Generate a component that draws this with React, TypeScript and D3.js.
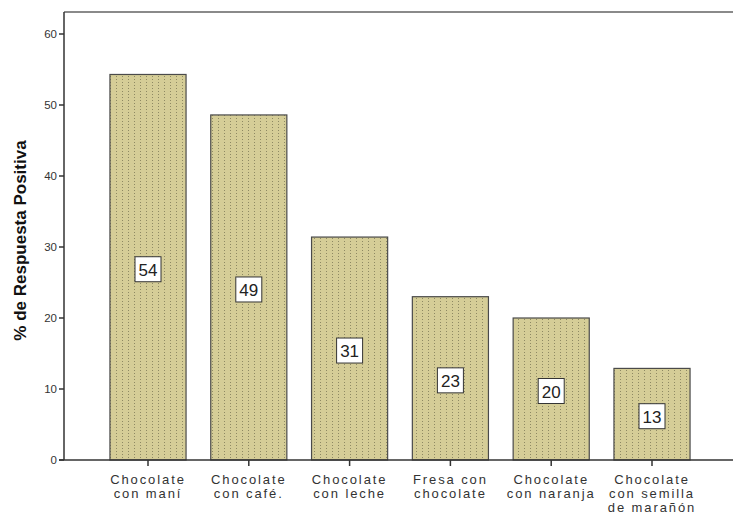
import React from "react";
import * as d3 from "d3";

const categories: string[][] = [
  ["Chocolate", "con maní"],
  ["Chocolate", "con café."],
  ["Chocolate", "con leche"],
  ["Fresa con", "chocolate"],
  ["Chocolate", "con naranja"],
  ["Chocolate", "con semilla", "de marañón"],
];
const values: number[] = [54.3, 48.6, 31.4, 23.0, 20.0, 12.9];
const valueLabels: string[] = ["54", "49", "31", "23", "20", "13"];
const yTicks: number[] = [0, 10, 20, 30, 40, 50, 60];
const yTitle = "% de Respuesta Positiva";

const W = 733;
const H = 514;
const axisX = 64;
const axisY = 460;
const topY = 12;

export default function App() {
  const keys = categories.map((c) => c.join(" "));
  const x = d3
    .scaleBand<string>()
    .domain(keys)
    .range([97.6, 702.4])
    .paddingInner(0.245)
    .paddingOuter(0.1225);
  const y = d3.scaleLinear().domain([0, 60]).range([axisY, 34]);
  const font = "'Liberation Sans', Arial, sans-serif";

  return (
    <svg
      width={W}
      height={H}
      style={{ position: "absolute", left: 0, top: 0, background: "#fff" }}
      fontFamily={font}
    >
      <defs>
        <pattern id="dots" width={6} height={3} patternUnits="userSpaceOnUse">
          <rect width={6} height={3} fill="#d5cd97" />
          <rect x={2} y={1} width={1} height={1} fill="#8e8963" />
        </pattern>
      </defs>
      <line x1={axisX} x2={W} y1={topY} y2={topY} stroke="#8a8a8a" strokeWidth={2} />
      {values.map((v, i) => {
        const bx = x(keys[i])!;
        const bw = x.bandwidth();
        const top = y(v);
        const mid = (top + axisY) / 2 + 2;
        return (
          <g key={keys[i]}>
            <rect
              x={bx}
              y={top}
              width={bw}
              height={axisY - top}
              fill="url(#dots)"
              stroke="#4a4a4a"
              strokeWidth={1.2}
            />
            <rect
              x={bx + bw / 2 - 13}
              y={mid - 12.5}
              width={26}
              height={25}
              fill="#fff"
              stroke="#333"
              strokeWidth={1}
            />
            <text
              x={bx + bw / 2}
              y={mid + 6.5}
              textAnchor="middle"
              fontSize={17}
              fill="#222"
            >
              {valueLabels[i]}
            </text>
          </g>
        );
      })}
      <line x1={axisX} x2={axisX} y1={topY} y2={axisY} stroke="#333" strokeWidth={1.5} />
      <line x1={axisX - 5} x2={W} y1={axisY} y2={axisY} stroke="#333" strokeWidth={1.5} />
      {yTicks.map((t) => (
        <g key={t}>
          <line x1={axisX - 5} x2={axisX} y1={y(t)} y2={y(t)} stroke="#333" strokeWidth={1.5} />
          <text x={axisX - 7} y={y(t) + 4} textAnchor="end" fontSize={11.5} fill="#333">
            {t}
          </text>
        </g>
      ))}
      {categories.map((lines, i) => {
        const cx = x(keys[i])! + x.bandwidth() / 2;
        return (
          <g key={keys[i]}>
            <line x1={cx} x2={cx} y1={axisY} y2={axisY + 6} stroke="#333" strokeWidth={1.5} />
            {lines.map((l, j) => (
              <text
                key={j}
                x={cx}
                y={484 + j * 14}
                textAnchor="middle"
                fontSize={13}
                letterSpacing={1.9}
                fill="#333"
              >
                {l}
              </text>
            ))}
          </g>
        );
      })}
      <text
        transform={`translate(25.5, 240.5) rotate(-90)`}
        textAnchor="middle"
        fontSize={17}
        fontWeight="bold"
        fill="#111"
      >
        {yTitle}
      </text>
    </svg>
  );
}
